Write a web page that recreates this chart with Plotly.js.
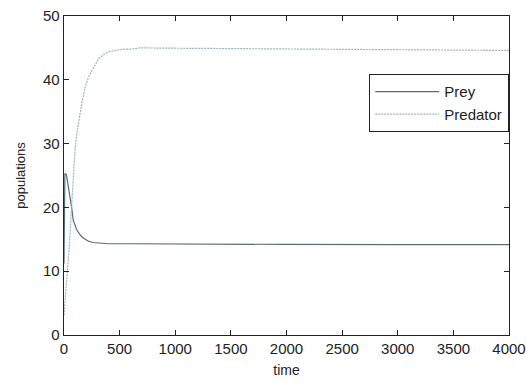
<!DOCTYPE html>
<html>
<head>
<meta charset="utf-8">
<script src="https://cdn.plot.ly/plotly-3.0.1.min.js"></script>
<style>html,body{margin:0;padding:0;background:#fff;}#chart{width:526px;height:385px;}</style>
</head>
<body>
<div id="chart"></div>
<script>
const preyTime = [0, 3, 8, 22, 35, 52, 70, 83, 100, 114, 140, 160, 190, 222, 260, 315, 400, 600, 800, 1200, 2000, 3000, 4000];
const preyValues = [11.2, 18, 25.3, 25.1, 23.8, 22.2, 19.8, 18.0, 17.1, 16.5, 15.8, 15.4, 15.0, 14.7, 14.5, 14.4, 14.3, 14.3, 14.3, 14.25, 14.2, 14.18, 14.15];
const predTime = [0, 15, 37, 50, 68, 85, 99, 115, 130, 160, 191, 220, 253, 285, 315, 360, 407, 470, 531, 600, 685, 1000, 2000, 3000, 4000];
const predValues = [3.1, 6.5, 10.7, 14.5, 20.1, 25.0, 29.0, 31.5, 33.2, 36.3, 38.9, 40.4, 41.5, 42.6, 43.4, 44.0, 44.4, 44.65, 44.8, 44.8, 45.0, 44.95, 44.85, 44.75, 44.6];
const seriesNames = ['Prey', 'Predator'];
const xTicks = [0, 500, 1000, 1500, 2000, 2500, 3000, 3500, 4000];
const yTicks = [0, 10, 20, 30, 40, 50];

const font = {family: 'Liberation Sans, Arial, sans-serif', color: '#222', size: 15};
const traces = [
  {x: preyTime, y: preyValues, name: seriesNames[0], type: 'scatter', mode: 'lines',
   line: {color: '#566d78', width: 1.2}},
  {x: predTime, y: predValues, name: seriesNames[1], type: 'scatter', mode: 'lines',
   line: {color: '#9db2c0', width: 1.2, dash: '2px,1px'}}
];
const axisCommon = {
  showgrid: false, zeroline: false, showline: true, mirror: 'ticks',
  linecolor: '#222', linewidth: 1.3, ticks: 'inside', ticklen: 5, tickcolor: '#222',
  tickfont: font
};
const layout = {
  width: 526, height: 385,
  margin: {l: 64, r: 17, t: 16, b: 50},
  paper_bgcolor: '#fff', plot_bgcolor: '#fff',
  font: font,
  showlegend: true,
  legend: {x: 1, xanchor: 'right', y: 0.818, yanchor: 'top', bordercolor: '#222', borderwidth: 1.3,
           bgcolor: '#fff', itemwidth: 64, font: {family: font.family, size: 15, color: '#222'}, tracegroupgap: 0},
  xaxis: Object.assign({}, axisCommon, {range: [0, 4000], tickvals: xTicks, ticktext: xTicks.map(String),
    title: {text: 'time', font: {family: font.family, size: 14, color: '#222'}, standoff: 9}}),
  yaxis: Object.assign({}, axisCommon, {range: [0, 50], tickvals: yTicks, ticktext: yTicks.map(String),
    title: {text: 'populations', font: {family: font.family, size: 13, color: '#222'}, standoff: 14}})
};
Plotly.newPlot('chart', traces, layout, {displayModeBar: false, staticPlot: true});
</script>
</body>
</html>
